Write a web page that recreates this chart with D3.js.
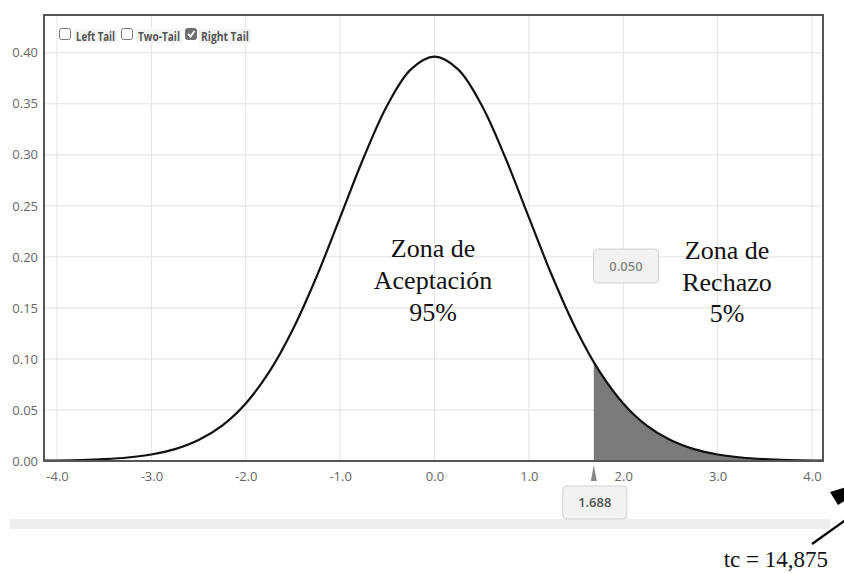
<!DOCTYPE html>
<html>
<head>
<meta charset="utf-8">
<script src="https://cdn.jsdelivr.net/npm/d3@7"></script>
<style>
  body { margin: 0; background: #fff; }
  .tick text { font-family: "Open Sans", sans-serif; font-size: 13px; fill: #666; }
  .zona { font-family: "Liberation Serif", "Times New Roman", serif; font-size: 26px; fill: #111; }
</style>
</head>
<body>
<script>
const xs      = [-4.25, -4.0, -3.75, -3.5, -3.25, -3.0, -2.75, -2.5, -2.25, -2.0, -1.75, -1.5, -1.25, -1.0, -0.75, -0.5, -0.25, 0.0,
                 0.25, 0.5, 0.75, 1.0, 1.25, 1.5, 1.75, 2.0, 2.25, 2.5, 2.75, 3.0, 3.25, 3.5, 3.75, 4.0, 4.25];
const density = [0.0002, 0.0004, 0.0009, 0.0018, 0.0034, 0.0064, 0.0116, 0.0205, 0.0347, 0.0564, 0.0875, 0.1291, 0.1805, 0.2387, 0.2974, 0.3486, 0.3837, 0.3962,
                 0.3837, 0.3486, 0.2974, 0.2387, 0.1805, 0.1291, 0.0875, 0.0564, 0.0347, 0.0205, 0.0116, 0.0064, 0.0034, 0.0018, 0.0009, 0.0004, 0.0002];
const critX = 1.688;
const critY = 0.0968;
const alphaLabel = "0.050";
const xTicks = [-4, -3, -2, -1, 0, 1, 2, 3, 4];
const yTicks = [0, 0.05, 0.10, 0.15, 0.20, 0.25, 0.30, 0.35, 0.40];
const tails  = [{ name: "Left Tail", checked: false }, { name: "Two-Tail", checked: false }, { name: "Right Tail", checked: true }];

const width = 844, height = 573;
const pLeft = 44, pTop = 15, pRight = 823, pBottom = 461;

const svg = d3.select("body").append("svg")
  .attr("width", width)
  .attr("height", height);

const x = d3.scaleLinear().domain([-4.138, 4.117]).range([pLeft, pRight]);
const y = d3.scaleLinear().domain([0, 0.437]).range([pBottom, pTop]);

const pts = xs.map((v, i) => ({ x: v, y: density[i] }));

svg.append("clipPath").attr("id", "plot")
  .append("rect").attr("x", pLeft).attr("y", pTop).attr("width", pRight - pLeft).attr("height", pBottom - pTop);

// Gitter
svg.append("g").selectAll("line").data(xTicks).enter().append("line")
  .attr("x1", d => x(d)).attr("x2", d => x(d))
  .attr("y1", pTop).attr("y2", pBottom)
  .attr("stroke", "#e2e2e2").attr("stroke-width", 1);
svg.append("g").selectAll("line").data(yTicks).enter().append("line")
  .attr("x1", pLeft).attr("x2", pRight)
  .attr("y1", d => y(d)).attr("y2", d => y(d))
  .attr("stroke", "#e2e2e2").attr("stroke-width", 1);

// Achsen (Bindestrich statt Minuszeichen)
const fmtX = d => d.toFixed(1);
const xAxis = svg.append("g")
  .attr("transform", `translate(0,${pBottom})`)
  .call(d3.axisBottom(x).tickValues(xTicks).tickFormat(fmtX).tickSize(0).tickPadding(11));
xAxis.select(".domain").remove();

const yAxis = svg.append("g")
  .attr("transform", `translate(${pLeft},0)`)
  .call(d3.axisLeft(y).tickValues(yTicks).tickFormat(d => d.toFixed(2)).tickSize(0).tickPadding(6));
yAxis.select(".domain").remove();

// Rechte Flanke
const tailPts = [{ x: critX, y: critY }].concat(pts.filter(d => d.x > critX));
const area = d3.area()
  .x(d => x(d.x)).y0(y(0)).y1(d => y(d.y))
  .curve(d3.curveCatmullRom);
svg.append("path")
  .datum(tailPts)
  .attr("clip-path", "url(#plot)")
  .attr("d", area)
  .attr("fill", "#7a7a7a");

const line = d3.line()
  .x(d => x(d.x)).y(d => y(d.y))
  .curve(d3.curveCatmullRom);
svg.append("path")
  .datum(pts)
  .attr("clip-path", "url(#plot)")
  .attr("d", line)
  .attr("fill", "none")
  .attr("stroke", "#111")
  .attr("stroke-width", 2.2);

// Rahmen
svg.append("rect")
  .attr("x", pLeft).attr("y", pTop)
  .attr("width", pRight - pLeft).attr("height", pBottom - pTop)
  .attr("fill", "none").attr("stroke", "#555").attr("stroke-width", 2);

// Checkboxen
const cbX = [59, 121, 185];
const tx  = [76, 138, 201];
const tw  = [39, 42, 48];
const cb = svg.append("g");
tails.forEach((t, i) => {
  cb.append("rect")
    .attr("x", tx[i] - 2).attr("y", 29).attr("width", tw[i] + 4).attr("height", 14)
    .attr("fill", "#f4f4f4");
  cb.append("rect")
    .attr("x", cbX[i] + 0.5).attr("y", 28.5).attr("width", 11).attr("height", 11).attr("rx", 2)
    .attr("fill", t.checked ? "#6f6f6f" : "#fff")
    .attr("stroke", t.checked ? "#6f6f6f" : "#777");
  if (t.checked) {
    cb.append("path")
      .attr("d", `M${cbX[i] + 3},${34} L${cbX[i] + 5.5},${36.5} L${cbX[i] + 9.5},${31}`)
      .attr("fill", "none").attr("stroke", "#fff").attr("stroke-width", 1.8);
  }
  cb.append("text")
    .attr("x", tx[i]).attr("y", 41)
    .attr("textLength", tw[i]).attr("lengthAdjust", "spacingAndGlyphs")
    .style("font-family", "'Open Sans', sans-serif")
    .style("font-size", "11.5px").style("font-weight", "bold")
    .style("fill", "#555")
    .text(t.name);
});

// Marker bei t krit
const cx = x(critX);
svg.append("path")
  .attr("d", `M${cx},465 L${cx + 3},481 L${cx - 3},481 Z`)
  .attr("fill", "#888");

function labelBox(cxm, y0, w, h, txt, col) {
  svg.append("rect")
    .attr("x", cxm - w / 2).attr("y", y0).attr("width", w).attr("height", h).attr("rx", 4)
    .attr("fill", "#f2f2f2").attr("stroke", "#d0d0d0");
  svg.append("text")
    .attr("x", cxm).attr("y", y0 + h / 2 + 4.5)
    .attr("text-anchor", "middle")
    .style("font-family", "'Open Sans', sans-serif")
    .style("font-size", "13px").style("font-weight", "600")
    .style("fill", col)
    .text(txt);
}

// Laufleiste
svg.append("rect")
  .attr("x", 10).attr("y", 519).attr("width", 820).attr("height", 10)
  .attr("fill", "#eeeeee");

labelBox(cx + 1, 486, 64, 33, critX.toFixed(3), "#555");
labelBox(626, 249, 65, 34, alphaLabel, "#888");

// Beschriftung
const zonaA = ["Zona de", "Aceptación", "95%"];
const zonaR = ["Zona de", "Rechazo", "5%"];
svg.append("text").attr("class", "zona").attr("text-anchor", "middle")
  .selectAll("tspan").data(zonaA).enter().append("tspan")
  .attr("x", 433).attr("y", (d, i) => 257 + i * 32).text(d => d);
svg.append("text").attr("class", "zona").attr("text-anchor", "middle")
  .selectAll("tspan").data(zonaR).enter().append("tspan")
  .attr("x", 727).attr("y", (d, i) => 259 + i * 31.5).text(d => d);

// Pfeil
svg.append("path")
  .attr("d", "M812,544 L847,519")
  .attr("stroke", "#000").attr("stroke-width", 2.4).attr("fill", "none");
svg.append("path")
  .attr("d", "M830,492 L846,487 L846,500 L838,505 Z")
  .attr("fill", "#000");

svg.append("text")
  .attr("x", 828).attr("y", 567)
  .attr("text-anchor", "end")
  .style("font-family", "'Liberation Serif', 'Times New Roman', serif")
  .style("font-size", "23px")
  .style("fill", "#111")
  .text("tc = 14,875");
</script>
</body>
</html>
